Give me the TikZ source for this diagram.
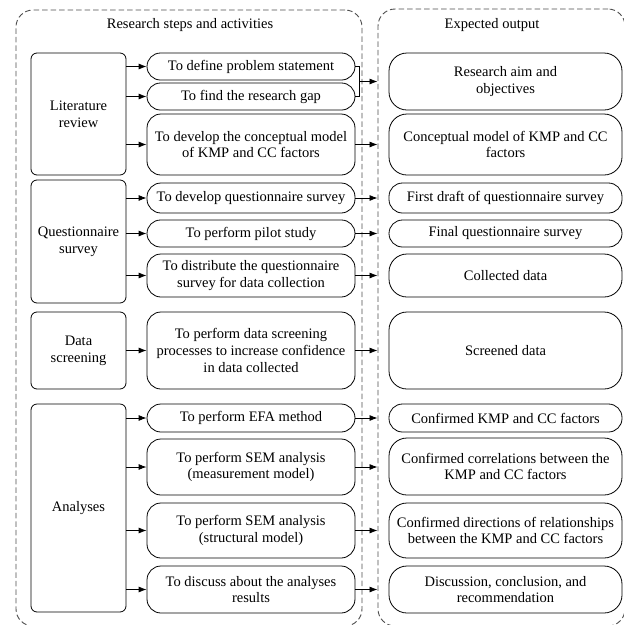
\documentclass[tikz,border=0pt]{standalone}
\usepackage{fontspec}
\setmainfont{Liberation Serif}
\usetikzlibrary{arrows.meta}
\tikzset{
  base/.style={draw=black, line width=0.8pt, align=center, inner sep=2pt,
    font=\fontsize{14.5}{16.7}\selectfont},
  catbox/.style={base, rounded corners=6pt, minimum width=95pt},
  stepbox/.style={base, rounded corners=14pt, minimum width=208pt},
  outbox/.style={base, rounded corners=18pt, minimum width=233pt},
  slim/.style={rounded corners=13.5pt},
  frame/.style={draw=black!70, line width=0.9pt, dash pattern=on 5.5pt off 3pt,
    rounded corners=17pt, inner sep=0pt},
  arr/.style={draw=black, line width=0.8pt, -{Latex[length=8pt,width=6pt]}},
  link/.style={draw=black, line width=0.8pt},
  title/.style={font=\fontsize{14.5}{16.7}\selectfont},
}
\begin{document}
\begin{tikzpicture}[x=1pt,y=-1pt]
\useasboundingbox (0,0) rectangle (624,625);

% dashed column frames
\node[frame, minimum width=346pt, minimum height=616pt] (steps) at (189,318) {};
\node[frame, minimum width=247pt, minimum height=617pt] (outs) at (501.5,317.5) {};
\node[title] (t1) at (190,25) {Research steps and activities};
\node[title] (t2) at (492,25) {Expected output};
\coordinate (oL) at (outs.west);

% research phases
\node[catbox, minimum height=122pt] (lit) at (78.5,114) {Literature\\review};
\node[catbox, minimum height=123pt] (qs)  at (78.5,241.5) {Questionnaire\\survey};
\node[catbox, minimum height=77pt]  (ds)  at (78.5,350.5) {Data\\screening};
\node[catbox, minimum height=208pt] (an)  at (78.5,508) {Analyses};

% activities
\node[stepbox, slim, minimum height=27pt] (m1) at (251,66.5) {To define problem statement};
\node[stepbox, slim, minimum height=27pt] (m2) at (251,96.5) {To find the research gap};
\node[stepbox, minimum height=61pt] (m3) at (251,144.5) {To develop the conceptual model\\of KMP and CC factors};
\node[stepbox, minimum height=30pt] (m4) at (251,198) {To develop questionnaire survey};
\node[stepbox, slim, minimum height=27pt] (m5) at (251,233.5) {To perform pilot study};
\node[stepbox, minimum height=43pt] (m6) at (251,275.5) {To distribute the questionnaire\\survey for data collection};
\node[stepbox, minimum height=77pt] (m7) at (251,350.5) {To perform data screening\\processes to increase confidence\\in data collected};
\node[stepbox, minimum height=28pt] (m8) at (251,418) {To perform EFA method};
\node[stepbox, minimum height=56pt] (m9) at (251,467) {To perform SEM analysis\\(measurement model)};
\node[stepbox, minimum height=55pt] (m10) at (251,530.5) {To perform SEM analysis\\(structural model)};
\node[stepbox, minimum height=47pt] (m11) at (251,589.5) {To discuss about the analyses\\results};

% outputs
\node[outbox, minimum height=57pt] (r1) at (505.5,81.5) {Research aim and\\objectives};
\node[outbox, minimum height=61pt] (r2) at (505.5,144.5) {Conceptual model of KMP and CC\\factors};
\node[outbox, slim, minimum height=30pt] (r3) at (505.5,198) {First draft of questionnaire survey};
\node[outbox, slim, minimum height=27pt] (r4) at (505.5,233.5) {Final questionnaire survey};
\node[outbox, minimum height=43pt] (r5) at (505.5,275.5) {Collected data};
\node[outbox, minimum height=77pt] (r6) at (505.5,350.5) {Screened data};
\node[outbox, slim, minimum height=28pt] (r7) at (505.5,418) {Confirmed KMP and CC factors};
\node[outbox, minimum height=57pt] (r8) at (505.5,466.5) {Confirmed correlations between the\\KMP and CC factors};
\node[outbox, minimum height=55pt] (r9) at (505.5,530.5) {Confirmed directions of relationships\\between the KMP and CC factors};
\node[outbox, minimum height=47pt] (r10) at (505.5,589.5) {Discussion, conclusion, and\\recommendation};

% phase -> activity arrows
\foreach \c/\m in {lit/m1, lit/m2, lit/m3, qs/m4, qs/m5, qs/m6, ds/m7,
                   an/m8, an/m9, an/m10, an/m11}
  \draw[arr] (\c.east |- \m.west) -- (\m.west);

% first two activities join into one output arrow
\coordinate (j) at (359,81.5);
\draw[link] (m1.east) -- (m1.east -| j) -- (m2.east -| j) -- (m2.east);
\draw[arr] (j) -- (j -| oL);

% activity -> output column arrows
\foreach \m in {m3, m4, m5, m6, m7, m8, m9, m10, m11}
  \draw[arr] (\m.east) -- (\m.east -| oL);
\end{tikzpicture}
\end{document}
